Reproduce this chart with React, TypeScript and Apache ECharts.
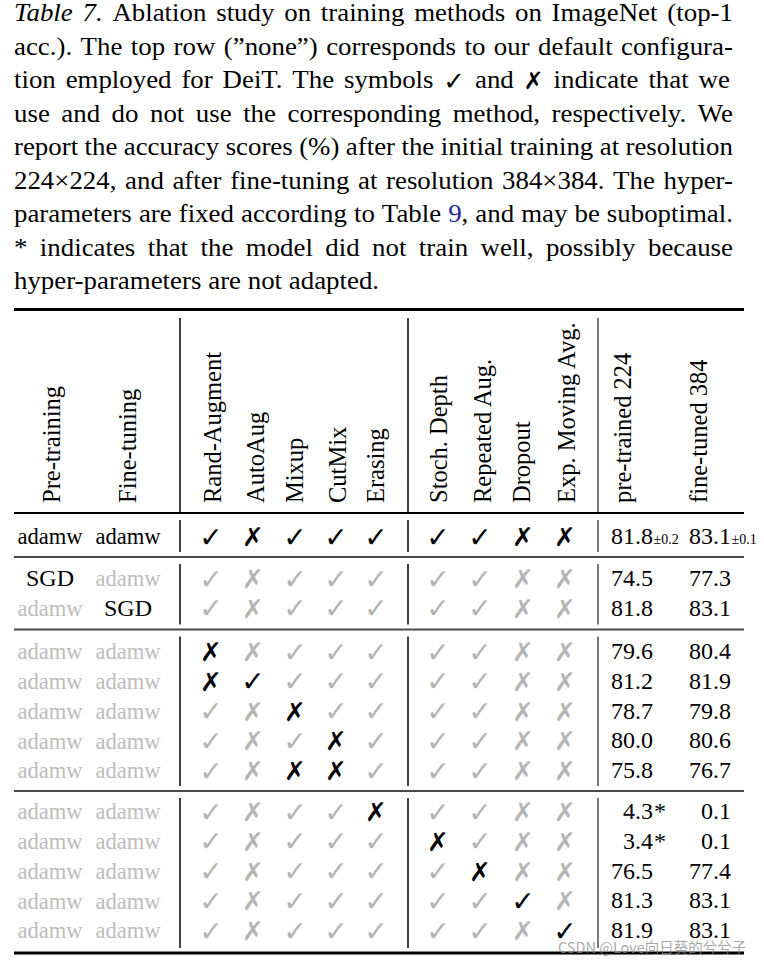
import React, { useEffect, useRef } from "react";
import * as echarts from "echarts";

// ---------- DATA ----------
const captionLines: string[] = [
  "Table 7. Ablation study on training methods on ImageNet (top-1",
  "acc.). The top row (”none”) corresponds to our default configura-",
  "tion employed for DeiT. The symbols ✓ and ✗ indicate that we",
  "use and do not use the corresponding method, respectively. We",
  "report the accuracy scores (%) after the initial training at resolution",
  "224×224, and after fine-tuning at resolution 384×384. The hyper-",
  "parameters are fixed according to Table 9, and may be suboptimal.",
  "* indicates that the model did not train well, possibly because",
  "hyper-parameters are not adapted.",
];

const optimizerHeaders = ["Pre-training", "Fine-tuning"];
const methodHeaders = [
  "Rand-Augment",
  "AutoAug",
  "Mixup",
  "CutMix",
  "Erasing",
  "Stoch. Depth",
  "Repeated Aug.",
  "Dropout",
  "Exp. Moving Avg.",
];
const scoreHeaders = ["pre-trained 224", "fine-tuned 384"];

const defaultOptimizer = "adamw";
const preTraining = ["adamw", "SGD", "adamw", "adamw", "adamw", "adamw", "adamw", "adamw", "adamw", "adamw", "adamw", "adamw", "adamw"];
const fineTuning = ["adamw", "adamw", "SGD", "adamw", "adamw", "adamw", "adamw", "adamw", "adamw", "adamw", "adamw", "adamw", "adamw"];

const defaultMethods = [1, 0, 1, 1, 1, 1, 1, 0, 0];
const methodRows: number[][] = [
  [1, 0, 1, 1, 1, 1, 1, 0, 0],
  [1, 0, 1, 1, 1, 1, 1, 0, 0],
  [1, 0, 1, 1, 1, 1, 1, 0, 0],
  [0, 0, 1, 1, 1, 1, 1, 0, 0],
  [0, 1, 1, 1, 1, 1, 1, 0, 0],
  [1, 0, 0, 1, 1, 1, 1, 0, 0],
  [1, 0, 1, 0, 1, 1, 1, 0, 0],
  [1, 0, 0, 0, 1, 1, 1, 0, 0],
  [1, 0, 1, 1, 0, 1, 1, 0, 0],
  [1, 0, 1, 1, 1, 0, 1, 0, 0],
  [1, 0, 1, 1, 1, 1, 0, 0, 0],
  [1, 0, 1, 1, 1, 1, 1, 1, 0],
  [1, 0, 1, 1, 1, 1, 1, 0, 1],
];

const pretrained224 = ["81.8", "74.5", "81.8", "79.6", "81.2", "78.7", "80.0", "75.8", "4.3", "3.4", "76.5", "81.3", "81.9"];
const pretrainedNote = ["±0.2", "", "", "", "", "", "", "", "*", "*", "", "", ""];
const finetuned384 = ["83.1", "77.3", "83.1", "80.4", "81.9", "79.8", "80.6", "76.7", "0.1", "0.1", "77.4", "83.1", "83.1"];
const finetunedNote = ["±0.1", "", "", "", "", "", "", "", "", "", "", "", ""];

const rowGroups = [1, 2, 5, 5];
const watermark = "CSDN @Love向日葵的兮兮子";

// ---------- LAYOUT ----------
const SERIF = "'Liberation Serif', 'Times New Roman', serif";
const SYM = "'DejaVu Sans', sans-serif";
const CAP_SIZE = 25;
const CAP_LEFT = 14;
const CAP_RIGHT = 733;
const CAP_BASE0 = 21.7;
const CAP_STEP = 33.5;

const optX = [50, 128];
const methodX = [211, 253, 295, 336, 376, 438, 480, 523, 565];
const headerX = [51, 127, 212, 255, 294, 337, 375, 438, 482, 521, 566, 622, 698];
const headerBottom = 503;
const numRight = [653, 731];
const groupTopY = [536, 578, 651, 811];
const rowPitch = 29.8;
const ruleY = [309.5, 513, 557, 629.5, 791, 953];
const ruleX0 = 14;
const ruleX1 = 744;
const vlineX = [180, 408, 598];
const GRAY_TEXT = "#bdbdbd";
const GRAY_MARK = "#b5b5b5";

let measureCtx: CanvasRenderingContext2D | null = null;
function measure(text: string, font: string): number {
  if (!measureCtx) {
    const c = document.createElement("canvas");
    measureCtx = c.getContext("2d");
  }
  measureCtx!.font = font;
  return measureCtx!.measureText(text).width;
}

type Seg = { t: string; italic?: boolean; sym?: boolean; color?: string };

function wordSegs(li: number, wi: number, w: string): Seg[] {
  if (li === 0 && wi < 2) return [{ t: w, italic: true }];
  if (w === "✓" || w === "✗") return [{ t: w, sym: true }];
  if (w === "9,") return [{ t: "9", color: "#22229a" }, { t: "," }];
  return [{ t: w }];
}
function segFont(s: Seg): string {
  if (s.sym) return `bold ${s.t === "✓" ? 26 : 24}px ${SYM}`;
  return `${s.italic ? "italic " : ""}normal ${CAP_SIZE}px ${SERIF}`;
}

function buildGraphics(): any[] {
  const els: any[] = [];
  // caption
  const lines = captionLines.map((line, li) =>
    line.split(" ").map((w, wi) => {
      const segs = wordSegs(li, wi, w).map((s) => ({ ...s, w: measure(s.t, segFont(s)) }));
      return { segs, w: segs.reduce((a, s) => a + s.w, 0) };
    })
  );
  const space = measure(" ", `${CAP_SIZE}px ${SERIF}`);
  const avail = CAP_RIGHT - CAP_LEFT;
  let sx = 10;
  lines.forEach((words, li) => {
    if (li === lines.length - 1) return;
    const tot = words.reduce((a, w) => a + w.w, 0) + (words.length - 1) * space * 0.95;
    sx = Math.min(sx, avail / tot);
  });
  lines.forEach((words, li) => {
    const sum = words.reduce((a, w) => a + w.w, 0) * sx;
    const last = li === lines.length - 1;
    const gap = last ? space * sx : (avail - sum) / (words.length - 1);
    const base = CAP_BASE0 + CAP_STEP * li;
    let x = CAP_LEFT;
    words.forEach((wd) => {
      wd.segs.forEach((s) => {
        const sym = !!s.sym;
        els.push({
          type: "text",
          x,
          y: sym ? base - 7.5 : base - 0.3375 * CAP_SIZE,
          scaleX: sym ? 1 : sx,
          style: {
            text: s.t,
            font: segFont(s),
            fill: s.color || "#000",
            align: "left",
            verticalAlign: "middle",
          },
        });
        x += s.w * (sym ? 1 : sx);
      });
      x += gap;
    });
  });

  // horizontal rules
  ruleY.forEach((y, i) => {
    const outer = i === 0 || i === ruleY.length - 1;
    const black = i <= 1 || outer;
    els.push({
      type: "line",
      shape: { x1: ruleX0, y1: y, x2: ruleX1, y2: y },
      style: { stroke: black ? "#000" : "#4a4a4a", lineWidth: outer ? 3 : 2 },
    });
  });

  // vertical segments: header + each group
  const segsY: [number, number][] = [[318, 512]];
  for (let i = 1; i < ruleY.length - 1; i++) segsY.push([ruleY[i] + 7, ruleY[i + 1] - 5]);
  segsY.forEach(([a, b]) => {
    vlineX.forEach((x, k) => {
      els.push({
        type: "line",
        shape: { x1: x, y1: a, x2: x, y2: b },
        style: { stroke: k === 2 ? "#7a7a7a" : "#000", lineWidth: k === 2 ? 2 : 1.5 },
      });
    });
  });

  // headers (rotated)
  const allHeaders = [...optimizerHeaders, ...methodHeaders, ...scoreHeaders];
  allHeaders.forEach((h, i) => {
    els.push({
      type: "text",
      x: headerX[i],
      y: headerBottom,
      rotation: Math.PI / 2,
      style: {
        text: h,
        font: `24.5px ${SERIF}`,
        fill: "#000",
        align: "left",
        verticalAlign: "middle",
      },
    });
  });

  // body rows
  const rowY: number[] = [];
  rowGroups.forEach((n, g) => {
    for (let k = 0; k < n; k++) rowY.push(groupTopY[g] + k * rowPitch);
  });
  const BODY = 24;
  rowY.forEach((y, r) => {
    const first = r === 0;
    [preTraining[r], fineTuning[r]].forEach((opt, c) => {
      const hi = first || opt !== defaultOptimizer;
      els.push({
        type: "text",
        x: optX[c],
        y,
        scaleX: opt === "adamw" ? 0.94 : 1,
        style: {
          text: opt,
          font: `${BODY}px ${SERIF}`,
          fill: hi ? "#000" : GRAY_TEXT,
          align: "center",
          verticalAlign: "middle",
        },
      });
    });
    methodRows[r].forEach((m, c) => {
      const hi = first || m !== defaultMethods[c];
      els.push({
        type: "text",
        x: methodX[c],
        y: y + 1,
        style: {
          text: m ? "✓" : "✗",
          font: `${hi ? "bold " : ""}${m ? 28 : 26}px ${SYM}`,
          fill: hi ? "#000" : GRAY_MARK,
          align: "center",
          verticalAlign: "middle",
        },
      });
    });
    const base = y + 0.3375 * BODY;
    [
      [pretrained224[r], pretrainedNote[r]],
      [finetuned384[r], finetunedNote[r]],
    ].forEach(([v, note], c) => {
      els.push({
        type: "text",
        x: numRight[c],
        y,
        style: { text: v, font: `${BODY}px ${SERIF}`, fill: "#000", align: "right", verticalAlign: "middle" },
      });
      if (note) {
        const small = note !== "*";
        const fs = small ? 14 : BODY;
        els.push({
          type: "text",
          x: numRight[c] + (small ? 0.5 : 1),
          y: base - 0.3375 * fs,
          style: { text: note, font: `${fs}px ${SERIF}`, fill: "#000", align: "left", verticalAlign: "middle" },
        });
      }
    });
  });

  // watermark
  els.push({
    type: "text",
    x: 558,
    y: 946,
    style: {
      text: watermark,
      font: `14.5px 'Noto Sans CJK SC', sans-serif`,
      fill: "rgba(140,140,140,0.75)",
      align: "left",
      verticalAlign: "middle",
    },
  });
  return els;
}

export default function App() {
  const ref = useRef<HTMLDivElement>(null);
  useEffect(() => {
    if (!ref.current) return;
    const chart = echarts.init(ref.current, undefined, { renderer: "svg" });
    chart.setOption({
      animation: false,
      backgroundColor: "#fff",
      graphic: { elements: buildGraphics() },
    });
    return () => chart.dispose();
  }, []);
  return (
    <div
      ref={ref}
      style={{ position: "fixed", left: 0, top: 0, width: 764, height: 965, background: "#fff" }}
    />
  );
}
